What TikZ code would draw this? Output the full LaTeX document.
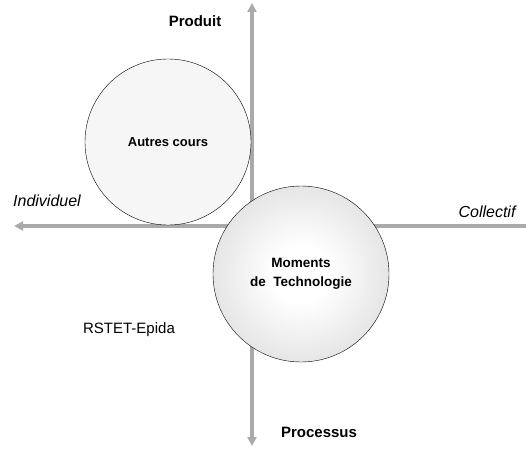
\documentclass[tikz,border=0pt]{standalone}
\usepackage{fontspec}
\setmainfont{Liberation Sans}
\usetikzlibrary{arrows.meta,positioning}
\definecolor{axisgray}{RGB}{170,170,170}
\definecolor{dotfill}{RGB}{246,246,246}
\definecolor{shadegray}{RGB}{192,192,192}
\pgfdeclareradialshading{momentshade}{\pgfpoint{0bp}{0bp}}{%
  color(0bp)=(white); color(8bp)=(white); color(50bp)=(shadegray)}
\tikzset{
  axis/.style={draw=axisgray, line width=3.5pt, -{Triangle[length=9pt,width=9pt]}},
  bothaxis/.style={draw=axisgray, line width=3.5pt, {Triangle[length=9pt,width=9pt]}-{Triangle[length=9pt,width=9pt]}},
  coursbox/.style={circle, draw=black, thin, minimum size=166pt, fill=dotfill,
    align=center, font=\fontsize{13}{15}\selectfont\bfseries},
  momentbox/.style={circle, draw=black, thin, minimum size=176pt,
    shading=momentshade, align=center,
    font=\fontsize{13.5}{19}\selectfont\bfseries},
  axislabel/.style={font=\fontsize{15}{17}\selectfont\bfseries},
  sidelabel/.style={font=\fontsize{16}{18}\selectfont\itshape}
}
\begin{document}
\begin{tikzpicture}[x=1pt, y=-1pt]
\useasboundingbox (0,0) rectangle (526,449);
\coordinate (top) at (252,3);
\coordinate (bottom) at (252,446);
\coordinate (left) at (14,226);
\coordinate (right) at (526,226);

\draw[bothaxis] (bottom) -- (top);
\draw[axis] (right) -- (left);

\node[coursbox] (autres) at (168,142) {Autres cours};
\node[momentbox] (moments) at (301,274) {Moments\\de~~Technologie};

\node[axislabel] (produit) at (195,21) {Produit};
\node[axislabel] (processus) at (319,432) {Processus};
\node[sidelabel] (indiv) at (47,201) {Individuel};
\node[sidelabel] (collectif) at (487,212) {Collectif};
\node[font=\fontsize{15}{17}\selectfont] (rstet) at (129,330) {RSTET-Epida};
\end{tikzpicture}
\end{document}
